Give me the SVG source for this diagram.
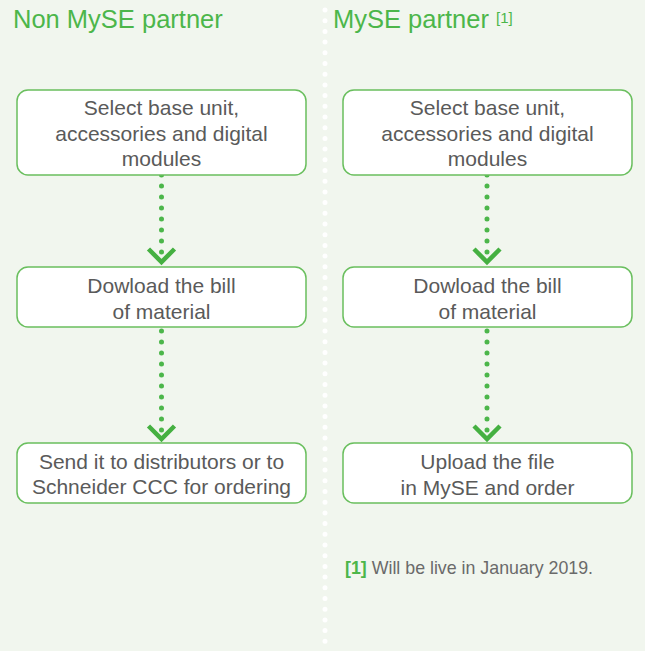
<svg xmlns="http://www.w3.org/2000/svg" width="645" height="651" viewBox="0 0 645 651">
<defs>
<style>
.bg{fill:#f1f6ee}
.title{font-family:"Liberation Sans",Arial,sans-serif;font-size:25.5px;fill:#4cb64a}
.sup{font-family:"Liberation Sans",Arial,sans-serif;font-size:15px;fill:#4cb64a}
.box{fill:#ffffff;stroke:#6abf5e;stroke-width:1.5}
.lbl{font-family:"Liberation Sans",Arial,sans-serif;font-size:21px;fill:#5a5a5a;text-anchor:middle}
.dots{stroke:#4cb64a;stroke-width:5;stroke-linecap:round;stroke-dasharray:0 11;fill:none}
.chev{stroke:#45b041;stroke-width:4.5;fill:none;stroke-linejoin:miter}
.divider{stroke:#ffffff;stroke-width:5;stroke-linecap:round;stroke-dasharray:0 10.7;fill:none}
.note{font-family:"Liberation Sans",Arial,sans-serif;font-size:17.8px;fill:#6a6a6a}
.noteb{font-weight:bold;fill:#4cb64a}
</style>
</defs>
<rect class="bg" x="0" y="0" width="645" height="651"/>
<line class="divider" x1="325" y1="10" x2="325" y2="651"/>
<g id="title-left"><text class="title" x="13" y="28">Non MySE partner</text></g>
<g id="title-right"><text class="title" x="333" y="28">MySE partner</text><text class="sup" x="496" y="23">[1]</text></g>

<g id="connectors">
<line class="dots" x1="161.5" y1="175" x2="161.5" y2="253"/>
<polyline class="chev" points="148.5,249 161.5,262 174.5,249"/>
<line class="dots" x1="161.5" y1="331" x2="161.5" y2="431"/>
<polyline class="chev" points="148.5,426 161.5,439 174.5,426"/>
<line class="dots" x1="487" y1="175" x2="487" y2="253"/>
<polyline class="chev" points="474,249 487,262 500,249"/>
<line class="dots" x1="487" y1="331" x2="487" y2="431"/>
<polyline class="chev" points="474,426 487,439 500,426"/>
</g>

<g id="left-select">
<rect class="box" x="17" y="90" width="289" height="85" rx="11"/>
<text class="lbl" x="161.5" y="115">Select base unit,</text>
<text class="lbl" x="161.5" y="140.5">accessories and digital</text>
<text class="lbl" x="161.5" y="166">modules</text>
</g>
<g id="left-download">
<rect class="box" x="17" y="267" width="289" height="60" rx="11"/>
<text class="lbl" x="161.5" y="293">Dowload the bill</text>
<text class="lbl" x="161.5" y="318.5">of material</text>
</g>
<g id="left-send">
<rect class="box" x="17" y="443" width="289" height="60" rx="11"/>
<text class="lbl" x="161.5" y="468.5">Send it to distributors or to</text>
<text class="lbl" x="161.5" y="494">Schneider CCC for ordering</text>
</g>

<g id="right-select">
<rect class="box" x="343" y="90" width="289" height="85" rx="11"/>
<text class="lbl" x="487.5" y="115">Select base unit,</text>
<text class="lbl" x="487.5" y="140.5">accessories and digital</text>
<text class="lbl" x="487.5" y="166">modules</text>
</g>
<g id="right-download">
<rect class="box" x="343" y="267" width="289" height="60" rx="11"/>
<text class="lbl" x="487.5" y="293">Dowload the bill</text>
<text class="lbl" x="487.5" y="318.5">of material</text>
</g>
<g id="right-upload">
<rect class="box" x="343" y="443" width="289" height="60" rx="11"/>
<text class="lbl" x="487.5" y="469">Upload the file</text>
<text class="lbl" x="487.5" y="495">in MySE and order</text>
</g>

<g id="footnote">
<text class="note" x="345" y="574"><tspan class="noteb">[1]</tspan> Will be live in January 2019.</text>
</g>
</svg>
